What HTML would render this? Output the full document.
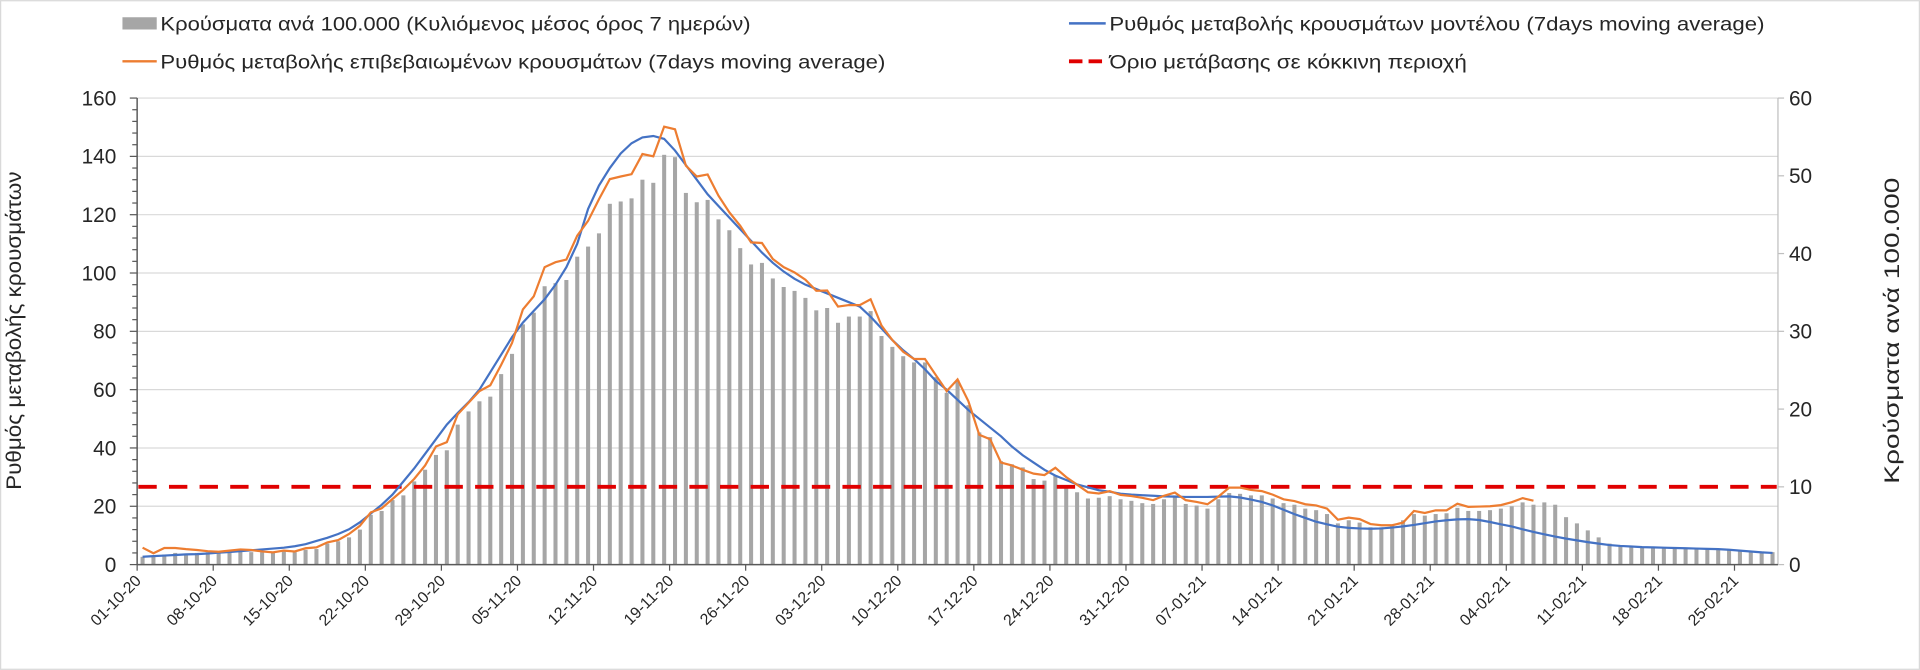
<!DOCTYPE html>
<html><head><meta charset="utf-8"><style>
html,body{margin:0;padding:0;background:#fff;}
svg{display:block;}
text{font-family:"Liberation Sans","Noto Sans CJK SC",sans-serif;fill:#262626;}
</style></head><body>
<svg id="chart" width="1920" height="670" viewBox="0 0 1568 547" xmlns="http://www.w3.org/2000/svg">
<rect x="0.5" y="0.5" width="1567" height="546" fill="#fff" stroke="#d9d9d9"/>
<g id="grid"></g>
<g id="bars"></g>
<line x1="113" x2="1451" y1="397.5" y2="397.5" stroke="#e00000" stroke-width="3.2" stroke-dasharray="15,10" id="redline"/>
<path id="blueLine" fill="none" stroke="#4472c4" stroke-width="1.8"/>
<path id="orangeLine" fill="none" stroke="#ed7d31" stroke-width="1.8"/>
<g id="axes"></g>
<text x="17" y="270" font-size="17" text-anchor="middle" transform="rotate(-90 17 270)" textLength="260" lengthAdjust="spacingAndGlyphs">Ρυθμός μεταβολής κρουσμάτων</text>
<text x="1551" y="270" font-size="17" text-anchor="middle" transform="rotate(-90 1551 270)" textLength="250" lengthAdjust="spacingAndGlyphs">Κρούσματα ανά 100.000</text>
<g>
<g><rect x="100" y="14" width="28" height="10" fill="#a6a6a6"/><text x="131" y="25" font-size="15.5" textLength="482" lengthAdjust="spacingAndGlyphs">Κρούσματα ανά 100.000 (Κυλιόμενος μέσος όρος 7 ημερών)</text></g>
<g><line x1="100" x2="128" y1="50" y2="50" stroke="#ed7d31" stroke-width="2"/><text x="131" y="56" font-size="15.5" textLength="592" lengthAdjust="spacingAndGlyphs">Ρυθμός μεταβολής επιβεβαιωμένων κρουσμάτων (7days moving average)</text></g>
<g><line x1="873" x2="903" y1="19" y2="19" stroke="#4472c4" stroke-width="2"/><text x="906" y="25" font-size="15.5" textLength="535" lengthAdjust="spacingAndGlyphs">Ρυθμός μεταβολής κρουσμάτων μοντέλου (7days moving average)</text></g>
<g><line x1="873" x2="903" y1="50" y2="50" stroke="#e00000" stroke-width="3.2" stroke-dasharray="11,5"/><text x="906" y="56" font-size="15.5" textLength="292" lengthAdjust="spacingAndGlyphs">Όριο μετάβασης σε κόκκινη περιοχή</text></g>
</g>
</svg>
<script>
// Bars: cases per 100k (right axis), daily 01-10-20 .. 28-02-21
const casesPer100k = [1.0,1.0,1.3,1.5,1.3,1.5,1.6,1.6,1.7,1.7,
1.6,1.6,1.6,1.7,1.6,1.9,2.0,2.7,3.0,3.5,
4.5,6.4,6.9,8.3,8.9,10.7,12.2,14.1,14.7,18.0,
19.7,21.0,21.6,24.5,27.1,30.9,32.4,35.8,36.2,36.6,
39.6,40.9,42.6,46.4,46.7,47.1,49.5,49.1,52.7,52.4,
47.8,46.6,46.9,44.4,43.0,40.7,38.6,38.8,36.8,35.7,
35.2,34.3,32.7,33.0,31.1,31.9,31.9,32.6,29.4,28.0,
26.8,26.0,26.0,24.1,22.1,23.7,20.5,17.0,16.4,13.3,
12.9,12.5,11.0,10.8,11.5,10.0,9.3,8.5,8.6,8.8,
8.4,8.2,7.9,7.8,8.4,8.9,7.8,7.6,7.2,8.4,
9.2,9.1,8.9,8.9,8.5,7.9,7.7,7.2,7.0,6.5,
5.3,5.7,5.4,4.8,4.8,5.0,5.7,6.5,6.3,6.5,
6.6,7.3,6.9,6.9,7.0,7.2,7.5,8.0,7.7,8.0,
7.7,6.1,5.3,4.4,3.5,2.7,2.5,2.4,2.3,2.2,
2.2,2.1,2.1,2.0,2.0,2.0,1.9,1.8,1.8,1.7,1.6];
// Model rate (left axis)
const modelRate = [2.7,2.9,3.1,3.3,3.5,3.6,3.8,4.1,4.3,4.6,
4.9,5.2,5.5,5.8,6.3,7.0,8.1,9.2,10.5,12.1,
14.5,17.5,20.5,24,28.5,33,38,43,48,52,
55.7,60,66,72,78,83,87,91,96,102,
110,122,130,136,141,144.5,146.5,147,146,142,
137,132,127,123,119,115,111,107,103.5,100.5,
98,96,94.5,93,91.5,90,88.5,85,81,77,
73.5,70.5,67,63,60,56.5,53,50,47,44,
40.5,37.5,35,32.5,30.5,29,27.5,26.5,25.5,25,
24.3,24,23.8,23.6,23.4,23.3,23.2,23.2,23.2,23.3,
23.4,23,22.3,21.5,20.3,18.8,17.3,16,14.7,13.8,
13,12.6,12.4,12.3,12.4,12.7,13.1,13.6,14.2,14.8,
15.2,15.5,15.6,15.3,14.6,13.8,13.1,12.1,11.2,10.4,
9.6,8.9,8.3,7.7,7.2,6.7,6.4,6.2,6.0,5.9,
5.8,5.7,5.6,5.5,5.4,5.3,5.1,4.8,4.5,4.2,4.0];
// Confirmed rate (left axis), until 07-02-21
const confirmedRate = [5.8,3.9,5.7,5.7,5.3,5.0,4.6,4.4,4.8,5.2,
5.0,4.5,4.2,4.8,4.5,5.6,5.9,7.6,8.4,10.5,
13.3,17.9,19.3,22.5,25.7,29.4,34,40.5,42,51.5,
55.5,59.5,61.5,68.5,76,87.5,92,102,103.7,104.6,
112.8,117.9,125.3,132.2,133.1,133.9,140.8,140,150.2,149.3,
136.8,133.1,133.8,126.5,120.8,116.2,110.5,110.3,104.8,102,
100.2,97.7,93.9,94,88.5,89,89,91,82,77,
73,70.5,70.5,65,59.5,63.5,56,44.5,43,35,
34,32.5,31.2,30.7,33.2,30,27.4,24.8,24.4,25.2,
23.9,23.5,22.9,22.1,23.6,24.7,22.1,21.5,20.7,23.3,
26.4,26.4,25.6,25.2,24,22.4,21.8,20.7,20.3,19.2,
15.4,16.1,15.6,13.9,13.5,13.5,14.4,18.4,17.7,18.6,
18.6,20.9,19.8,19.9,20,20.4,21.4,22.8,21.9];
const leftTicks = [0,20,40,60,80,100,120,140,160];
const rightTicks = [0,10,20,30,40,50,60];
const thresholdRight = 10;
const dateLabels = ["01-10-20","08-10-20","15-10-20","22-10-20","29-10-20","05-11-20","12-11-20","19-11-20","26-11-20","03-12-20","10-12-20","17-12-20","24-12-20","31-12-20","07-01-21","14-01-21","21-01-21","28-01-21","04-02-21","11-02-21","18-02-21","25-02-21"];

const NS="http://www.w3.org/2000/svg";
const X0=112, X1=1452, Y0=461, YT=80, N=casesPer100k.length;
const band=(X1-X0)/N;
const xc=i=>X0+band*(i+0.5);
const yL=v=>Y0-(Y0-YT)*v/160;
const yR=v=>Y0-(Y0-YT)*v/60;
function mk(tag,attrs,parent){const e=document.createElementNS(NS,tag);for(const k in attrs)e.setAttribute(k,attrs[k]);parent.appendChild(e);return e;}

const grid=document.getElementById('grid');
leftTicks.forEach(t=>{if(t>0){const g=mk('line',{x1:X0,x2:X1,y1:yL(t),y2:yL(t),stroke:'#d9d9d9','stroke-width':1},grid);

}});

const bars=document.getElementById('bars');
casesPer100k.forEach((v,i)=>{const r=mk('rect',{x:xc(i)-1.65,y:yR(v),width:3.3,height:Y0-yR(v),fill:'#a6a6a6'},bars);

});

document.getElementById('redline').setAttribute('y1',yR(thresholdRight));
document.getElementById('redline').setAttribute('y2',yR(thresholdRight));

document.getElementById('blueLine').setAttribute('d',modelRate.map((v,i)=>(i?'L':'M')+xc(i).toFixed(2)+' '+yL(v).toFixed(2)).join(' '));
document.getElementById('orangeLine').setAttribute('d',confirmedRate.map((v,i)=>(i?'L':'M')+xc(i).toFixed(2)+' '+yL(v).toFixed(2)).join(' '));

const ax=document.getElementById('axes');
mk('line',{x1:X0,x2:X0,y1:YT,y2:Y0,stroke:'#595959','stroke-width':1.2},ax);
for(let v=0;v<=160;v+=4){const major=v%20===0;mk('line',{x1:X0-(major?6:4),x2:X0,y1:yL(v),y2:yL(v),stroke:'#595959','stroke-width':1},ax);}
leftTicks.forEach(t=>{const tx=mk('text',{x:95,y:yL(t)+6,'font-size':17,'text-anchor':'end'},ax);tx.textContent=t;

});
mk('line',{x1:X1,x2:X1,y1:YT,y2:Y0,stroke:'#bfbfbf','stroke-width':1},ax);
rightTicks.forEach(t=>{mk('line',{x1:X1,x2:X1+5,y1:yR(t),y2:yR(t),stroke:'#bfbfbf','stroke-width':1},ax);
const tx=mk('text',{x:1461,y:yR(t)+6,'font-size':17},ax);tx.textContent=t;

});
mk('line',{x1:X0,x2:X1,y1:Y0,y2:Y0,stroke:'#595959','stroke-width':1.2},ax);
dateLabels.forEach((d,k)=>{const x=X0+band*7*k;mk('line',{x1:x,x2:x,y1:Y0,y2:Y0+5,stroke:'#595959','stroke-width':1},ax);
const tx=mk('text',{x:x+4,y:Y0+14,'font-size':13,'text-anchor':'end',transform:`rotate(-45 ${x+4} ${Y0+14})`},ax);tx.textContent=d;

});
</script>
</body></html>
